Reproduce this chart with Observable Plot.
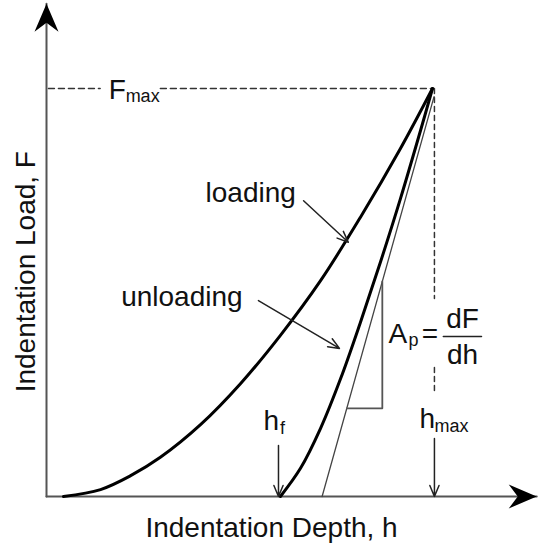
<!DOCTYPE html>
<html>
<head>
<meta charset="utf-8">
<script src="https://cdn.jsdelivr.net/npm/d3@7"></script>
<script src="https://cdn.jsdelivr.net/npm/@observablehq/plot@0.6"></script>
<style>
  html, body { margin: 0; padding: 0; background: #fff; }
  #chart svg { display: block; }
</style>
</head>
<body>
<div id="chart"></div>
<script>
// Depth h (arbitrary units, h_max = 100) and load F (arbitrary units, F_max = 100)
const loadingH = [4.4, 14.0, 21.8, 29.5, 39.9, 50.3, 60.6, 71.0, 81.3, 91.7, 100];
const loadingF = [0, 1.7, 5.1, 9.6, 17.6, 27.7, 39.5, 52.9, 68.4, 85.3, 100];

const unloadingH = [60.6, 65.8, 71.0, 76.2, 81.3, 86.5, 91.7, 96.9, 100];
const unloadingF = [0, 6.9, 16.7, 28.9, 42.6, 57.4, 73.0, 89.7, 100];

// tangent to the unloading curve at F_max
const tangentH = [71.4, 100.4];
const tangentF = [0, 98];

// slope triangle (A_p = dF/dh)
const triangleH = [77.8, 87.0, 87.0];
const triangleF = [21.6, 21.6, 52.7];

// axes (with arrow tips)
const axisXH = [0, 127];
const axisXF = [0, 0];
const axisYH = [0, 0];
const axisYF = [0, 120.8];

// dashed guides
const fmaxDash = [
  {seg: 1, h: 0.5, F: 100}, {seg: 1, h: 13.9, F: 100},
  {seg: 2, h: 29.5, F: 100}, {seg: 2, h: 100, F: 100}
];
const hmaxDash = [
  {seg: 1, h: 100.5, F: 100}, {seg: 1, h: 100.5, F: 48.5},
  {seg: 2, h: 100.5, F: 31.6}, {seg: 2, h: 100.5, F: 25.2}
];

// pointer arrows
const pointers = [
  {h1: 66.6, F1: 72.5, h2: 78.2, F2: 62.3},
  {h1: 54.9, F1: 48.0, h2: 75.9, F2: 36.3},
  {h1: 60.1, F1: 12.5, h2: 60.1, F2: 0},
  {h1: 100.5, F1: 14.2, h2: 100.5, F2: 0}
];

// text labels
const mainLabels = [
  {text: "loading", h: 41.2, F: 72.1, anchor: "start"},
  {text: "unloading", h: 50.8, F: 46.8, anchor: "end"},
  {text: "F", h: 16.1, F: 97.5, anchor: "start"},
  {text: "h", h: 56.2, F: 16.4, anchor: "start"},
  {text: "h", h: 96.6, F: 16.9, anchor: "start"},
  {text: "A", h: 88.6, F: 37.7, anchor: "start"},
  {text: "=", h: 97.2, F: 37.7, anchor: "start"},
  {text: "dF", h: 107.8, F: 41.2, anchor: "middle"},
  {text: "dh", h: 107.8, F: 32.4, anchor: "middle"},
  {text: "Indentation Depth, h", h: 58.3, F: -10.0, anchor: "middle"}
];
const subLabels = [
  {text: "max", h: 20.5, F: 96.6},
  {text: "f", h: 60.5, F: 15.4},
  {text: "max", h: 100.5, F: 15.9},
  {text: "p", h: 93.8, F: 36.8}
];
const yTitle = [{text: "Indentation Load, F", h: -2.85, F: 55.1}];
const fractionBar = [{h: 102.8, F: 39.2}, {h: 112.7, F: 39.2}];

const arrowTips = [
  {h: 0, F: 120.8, angle: 0},
  {h: 127, F: 0, angle: 90}
];

const zip = (H, F) => H.map((h, i) => ({h, F: F[i]}));

const arrowHead = {
  draw(ctx) {
    ctx.moveTo(0, 0);
    ctx.lineTo(12, 28);
    ctx.lineTo(0, 19);
    ctx.lineTo(-12, 28);
    ctx.closePath();
  }
};

const font = "'Liberation Sans', Arial, Helvetica, sans-serif";
const textStyle = {x: "h", y: "F", text: "text", lineAnchor: "bottom", fontSize: 28, fill: "#111"};

const chart = Plot.plot({
  width: 550,
  height: 548,
  margin: 0,
  style: {background: "#fff", fontFamily: font, overflow: "visible"},
  x: {domain: [0, 100], range: [46, 432], axis: null},
  y: {domain: [0, 100], range: [496, 88], axis: null},
  marks: [
    Plot.line(fmaxDash, {x: "h", y: "F", z: "seg", stroke: "#333", strokeWidth: 1.5, strokeDasharray: "6,4"}),
    Plot.line(hmaxDash, {x: "h", y: "F", z: "seg", stroke: "#333", strokeWidth: 1.5, strokeDasharray: "5,4"}),
    Plot.line(zip(axisXH, axisXF), {x: "h", y: "F", stroke: "#555", strokeWidth: 2}),
    Plot.line(zip(axisYH, axisYF), {x: "h", y: "F", stroke: "#555", strokeWidth: 2}),
    Plot.dot(arrowTips, {x: "h", y: "F", rotate: "angle", symbol: arrowHead, fill: "#000", stroke: "none"}),
    Plot.line(zip(tangentH, tangentF), {x: "h", y: "F", stroke: "#444", strokeWidth: 1.3}),
    Plot.line(zip(triangleH, triangleF), {x: "h", y: "F", stroke: "#555", strokeWidth: 1.8}),
    Plot.line(zip(loadingH, loadingF), {x: "h", y: "F", curve: "catmull-rom", stroke: "#000", strokeWidth: 3}),
    Plot.line(zip(unloadingH, unloadingF), {x: "h", y: "F", curve: "catmull-rom", stroke: "#000", strokeWidth: 3}),
    Plot.arrow(pointers, {x1: "h1", y1: "F1", x2: "h2", y2: "F2", stroke: "#222", strokeWidth: 1.5, headLength: 12, headAngle: 45}),
    Plot.line(fractionBar, {x: "h", y: "F", stroke: "#222", strokeWidth: 1.5}),
    Plot.text(mainLabels, {...textStyle, filter: d => d.anchor === "start", textAnchor: "start"}),
    Plot.text(mainLabels, {...textStyle, filter: d => d.anchor === "end", textAnchor: "end"}),
    Plot.text(mainLabels, {...textStyle, filter: d => d.anchor === "middle", textAnchor: "middle"}),
    Plot.text(subLabels, {...textStyle, textAnchor: "start", fontSize: 18}),
    Plot.text(yTitle, {...textStyle, rotate: -90, textAnchor: "middle"})
  ]
});
document.getElementById("chart").appendChild(chart);
</script>
</body>
</html>
